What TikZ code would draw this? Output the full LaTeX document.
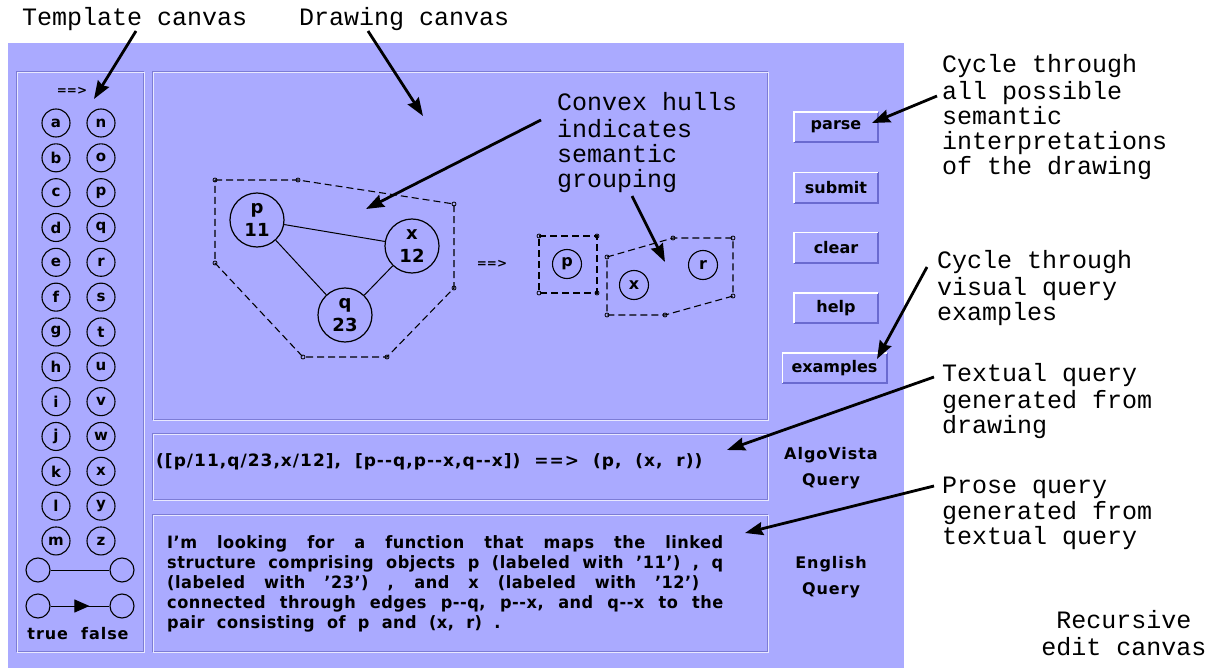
\documentclass[tikz,border=0pt]{standalone}
\usepackage{fontspec}
\usetikzlibrary{arrows.meta,decorations.markings}
\newfontfamily\annfont{Liberation Mono}
\newfontfamily\uifont{DejaVu Sans}[LetterSpace=6,WordSpace=2,Ligatures=TeXOff]
\newfontfamily\prosefont{DejaVu Sans}[FakeStretch=0.95,LetterSpace=3,WordSpace=2,Ligatures=TeXOff]
\newfontfamily\glyphfont{DejaVu Sans}[Ligatures=TeXOff]
\definecolor{panelbg}{HTML}{AAAAFF}
\definecolor{edgedark}{HTML}{7C7CD6}
\definecolor{edgelight}{HTML}{E8E8FF}
\definecolor{btndark}{HTML}{6A6AD0}
\newcommand\etchframe[4]{%
  \draw[edgedark,line width=1bp] (#1,#2) rectangle (#3-1,#4-1);
  \draw[edgelight,line width=1bp] (#1+1,#2+1) rectangle (#3,#4);}
\newcommand\uibutton[5]{%
  \node[btn, minimum width=#4] (#1) at (#2,#3) {#5};
  \draw[btndark,line width=2bp] (#1.south west) -- (#1.south east) -- (#1.north east);
  \draw[white,line width=1.5bp] (#1.south west) -- (#1.north west) -- (#1.north east);}
\newcommand\proseline[2]{\makebox[#1][s]{#2}}
\tikzset{
  ann/.style={font=\annfont\fontsize{25bp}{25bp}\selectfont, align=left, inner sep=0pt, anchor=north west},
  arr/.style={line width=2.8bp, -{Stealth[length=18bp,width=13bp,inset=2bp]}},
  btn/.style={rectangle, fill=panelbg, minimum height=30bp, inner sep=0pt,
    font=\glyphfont\bfseries\fontsize{16bp}{16bp}\selectfont},
  uitext/.style={font=\uifont\bfseries\fontsize{17bp}{20bp}\selectfont, inner sep=0pt},
  prose/.style={font=\prosefont\bfseries\fontsize{17bp}{20bp}\selectfont, inner sep=0pt, align=left},
  uilbl/.style={font=\uifont\bfseries\fontsize{16bp}{26bp}\selectfont, align=center, anchor=north, inner sep=0pt},
  tc/.style={circle, draw, line width=1.1bp, minimum size=28bp, inner sep=0pt,
    font=\glyphfont\bfseries\fontsize{15bp}{15bp}\selectfont},
  sc/.style={circle, draw, line width=1.1bp, minimum size=29bp, inner sep=0pt,
    font=\glyphfont\bfseries\fontsize{16bp}{16bp}\selectfont},
  ec/.style={circle, draw, line width=1.1bp, minimum size=24bp, inner sep=0pt},
  gn/.style={circle, draw, line width=1.2bp, minimum size=54bp, inner sep=0pt, align=center,
    font=\glyphfont\bfseries\fontsize{18bp}{23bp}\selectfont},
  imp/.style={font=\glyphfont\bfseries\fontsize{12bp}{12bp}\selectfont, inner sep=0pt},
  hull/.style={line width=1.1bp, dash pattern=on 7bp off 4bp},
  vmark/.style={line width=0.8bp},
  gedge/.style={line width=1bp},
  midarrow/.style={postaction={decorate}, decoration={markings,
    mark=at position 0.66 with {\arrow{Triangle[length=15bp,width=13bp]}}}}
}
\begin{document}
\begin{tikzpicture}[x=1bp,y=-1bp]
\useasboundingbox (0,0) rectangle (1212,668);
\fill[white] (0,0) rectangle (1212,668);
% main blue window
\fill[panelbg] (8,43) rectangle (904,668);
% panels
\etchframe{16}{72}{144}{652}
\etchframe{152}{72}{768}{420}
\etchframe{152}{433}{768}{500}
\etchframe{152}{514}{768}{652}

% ---- template canvas ----
\node[imp] (tmplImp) at (72,91) {==>};
\foreach \a [count=\i from 0] in {a,b,c,d,e,f,g,h,i,j,k,l,m}
  \node[tc] (t-\a) at (56,123+34.83*\i) {\a};
\foreach \a [count=\i from 0] in {n,o,p,q,r,s,t,u,v,w,x,y,z}
  \node[tc] (t-\a) at (101,123+34.83*\i) {\a};
\node[ec] (e1l) at (38,570) {};
\node[ec] (e1r) at (122,570) {};
\draw[gedge] (e1l) -- (e1r);
\node[ec] (e2l) at (38,606) {};
\node[ec] (e2r) at (122,606) {};
\draw[gedge,midarrow] (e2l) -- (e2r);
\node[uitext, font=\uifont\bfseries\fontsize{16bp}{20bp}\selectfont, anchor=base] (tf) at (78,639) {true false};

% ---- drawing canvas ----
\draw[hull] (215,180) -- (298,180) -- (454,204) -- (454,288) -- (387,357) -- (303,357) -- (215,263) -- cycle;
\foreach \px/\py in {215/180,298/180,454/204,454/288,387/357,303/357,215/263}
  \draw[vmark] (\px,\py) circle (2bp);
\node[gn] (p) at (257,220) {p\\11};
\node[gn] (x) at (412,246) {x\\12};
\node[gn] (q) at (345,315) {q\\23};
\draw[gedge] (p) -- (x);
\draw[gedge] (p) -- (q);
\draw[gedge] (x) -- (q);
\node[imp] (drawImp) at (492,264) {==>};
\draw[hull] (539,236) -- (597,236) -- (597,293) -- (539,293) -- cycle;
\foreach \px/\py in {539/236,597/236,597/293,539/293}
  \draw[vmark] (\px,\py) circle (2bp);
\node[sc] (p2) at (567,264) {p};
\draw[hull] (607,257) -- (673,238) -- (733,238) -- (733,296) -- (665,315) -- (607,315) -- cycle;
\foreach \px/\py in {607/257,673/238,733/238,733/296,665/315,607/315}
  \draw[vmark] (\px,\py) circle (2bp);
\node[sc] (x2) at (634,285) {x};
\node[sc] (r2) at (703,265) {r};

% ---- query boxes ----
\node[uitext, anchor=base west] (algoText) at (156,466) {([p/11,q/23,x/12], [p--q,p--x,q--x]) ==> (p, (x, r))};
\node[prose, anchor=north west] (englishText) at (167,534)
  {\strut\proseline{556bp}{I’m looking for a function that maps the linked}\\
   \proseline{556bp}{structure comprising objects p (labeled with ’11’) , q}\\
   \proseline{532bp}{(labeled with ’23’) , and x (labeled with ’12’)}\\
   \proseline{556bp}{connected through edges p--q, p--x, and q--x to the}\\
   pair consisting of p and (x, r) .};
\node[uilbl] (lblAlgo) at (831,440.8) {\strut AlgoVista\\Query};
\node[uilbl] (lblEnglish) at (831,549.8) {\strut English\\Query};

% ---- buttons ----
\uibutton{parse}{836}{127}{84bp}{parse}
\uibutton{submit}{836}{187.5}{84bp}{submit}
\uibutton{clear}{836}{247.5}{84bp}{clear}
\uibutton{help}{836}{308}{84bp}{help}
\uibutton{examples}{834.5}{368}{104bp}{examples}

% ---- annotations ----
\node[ann] (lblTemplate) at (22,7.5) {\strut Template canvas};
\node[ann] (lblDrawing) at (299,7.5) {\strut Drawing canvas};
\node[ann] (lblConvex) at (557,92.5) {\strut Convex hulls\\indicates\\semantic\\grouping};
\node[ann] (lblParse) at (942,54.5) {\strut Cycle through\\all possible\\semantic\\interpretations\\of the drawing};
\node[ann] (lblExamples) at (937,250.5) {\strut Cycle through\\visual query\\examples};
\node[ann] (lblTextual) at (942,363.5) {\strut Textual query\\generated from\\drawing};
\node[ann] (lblProse) at (942,475.5) {\strut Prose query\\generated from\\textual query};
\node[ann, align=center, anchor=north] (lblRecursive) at (1124,610.5) {\strut Recursive\\edit canvas};

% ---- annotation arrows ----
\coordinate (srcT) at (136,31);   \coordinate (tipT) at (94,99);
\coordinate (srcD) at (368,31);   \coordinate (tipD) at (423,116);
\coordinate (srcC) at (541,120);  \coordinate (tipC) at (366,209);
\coordinate (srcG) at (632,196);  \coordinate (tipG) at (665,262);
\coordinate (srcP) at (937,96);   \coordinate (tipP) at (872,123);
\coordinate (srcE) at (927,267);  \coordinate (tipE) at (877,359);
\coordinate (srcQ) at (934,377);  \coordinate (tipQ) at (727,450);
\coordinate (srcR) at (934,486);  \coordinate (tipR) at (745,533);
\draw[arr] (srcT) -- (tipT);
\draw[arr] (srcD) -- (tipD);
\draw[arr] (srcC) -- (tipC);
\draw[arr] (srcG) -- (tipG);
\draw[arr] (srcP) -- (tipP);
\draw[arr] (srcE) -- (tipE);
\draw[arr] (srcQ) -- (tipQ);
\draw[arr] (srcR) -- (tipR);
\end{tikzpicture}
\end{document}
